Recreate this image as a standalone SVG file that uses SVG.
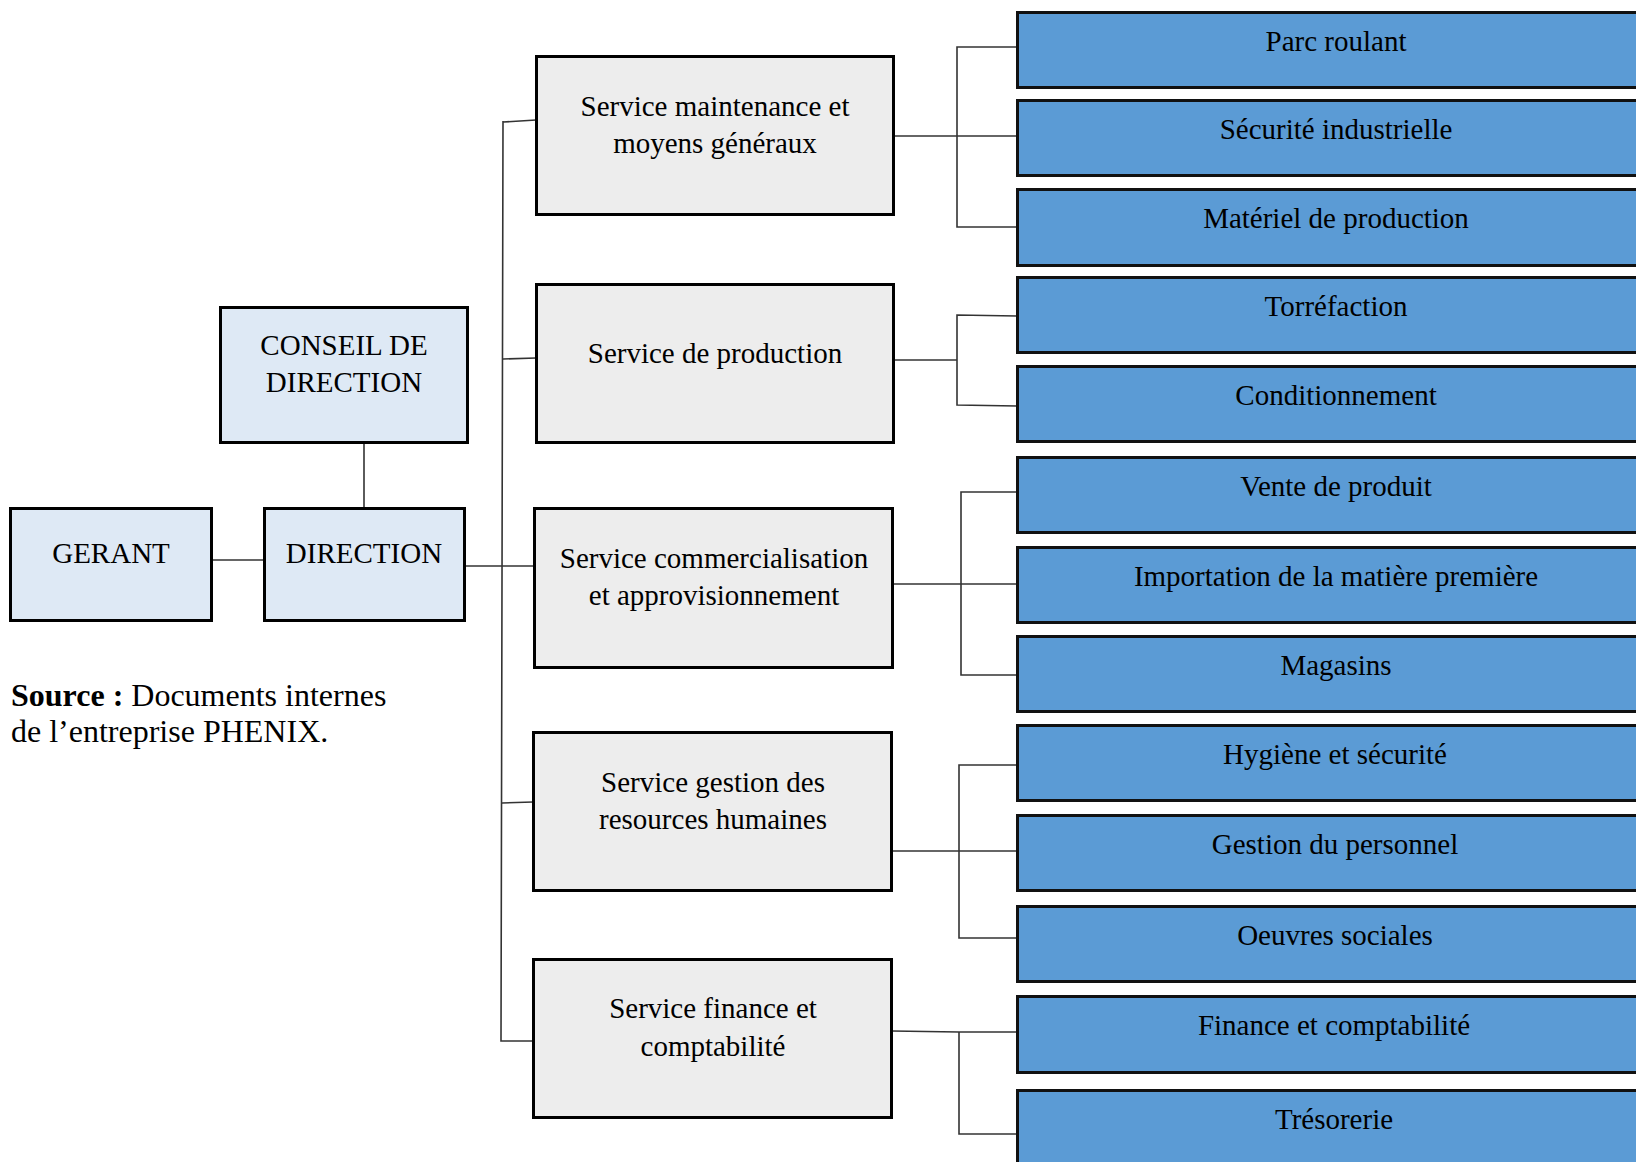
<svg xmlns="http://www.w3.org/2000/svg" width="1636" height="1162" viewBox="0 0 1636 1162">
<style>
text{font-family:"Liberation Serif","Times New Roman",serif;font-size:29px;fill:#000;text-anchor:middle}
.top rect{fill:#dee9f5;stroke:#000;stroke-width:3}
.mid rect{fill:#ededed;stroke:#000;stroke-width:3}
.sub rect{fill:#5b9bd5;stroke:#111;stroke-width:3}
.conn{fill:none;stroke:#333;stroke-width:1.6}
.src{text-anchor:start;font-size:32px}
</style>
<rect width="1636" height="1162" fill="#fff"/>
<g id="connectors" class="conn">
<path d="M364 443V508"/>
<path d="M212 560H264"/>
<path d="M465 566H534"/>
<path d="M503 121L501 1041H533"/>
<path d="M503 122L536 120"/>
<path d="M503 359L536 358"/>
<path d="M502 803L533 802"/>
<path d="M894 136H1017"/>
<path d="M1017 47H957V227H1017"/>
<path d="M894 360H957"/>
<path d="M1017 316L957 315V405L1017 406"/>
<path d="M893 584H1017"/>
<path d="M1017 492H961V675H1017"/>
<path d="M892 851H1017"/>
<path d="M1017 765H959V938H1017"/>
<path d="M892 1031L959 1032H1017"/>
<path d="M959 1032V1134H1017"/>
</g>
<g id="conseil" class="top"><rect x="220.5" y="307.5" width="247" height="135"/><text x="344" y="355">CONSEIL DE</text><text x="344" y="392">DIRECTION</text></g>
<g id="gerant" class="top"><rect x="10.5" y="508.5" width="201" height="112"/><text x="111" y="563">GERANT</text></g>
<g id="direction" class="top"><rect x="264.5" y="508.5" width="200" height="112"/><text x="364" y="563">DIRECTION</text></g>
<g id="svc-maintenance" class="mid"><rect x="536.5" y="56.5" width="357" height="158"/><text x="715" y="116">Service maintenance et</text><text x="715" y="153">moyens généraux</text></g>
<g id="svc-production" class="mid"><rect x="536.5" y="284.5" width="357" height="158"/><text x="715" y="363">Service de production</text></g>
<g id="svc-commerce" class="mid"><rect x="534.5" y="508.5" width="358" height="159"/><text x="714" y="568">Service commercialisation</text><text x="714" y="605">et approvisionnement</text></g>
<g id="svc-rh" class="mid"><rect x="533.5" y="732.5" width="358" height="158"/><text x="713" y="792">Service gestion des</text><text x="713" y="829">resources humaines</text></g>
<g id="svc-finance" class="mid"><rect x="533.5" y="959.5" width="358" height="158"/><text x="713" y="1018">Service finance et</text><text x="713" y="1056">comptabilité</text></g>
<g id="parc" class="sub"><rect x="1017.5" y="12.5" width="640" height="75"/><text x="1336" y="51">Parc roulant</text></g>
<g id="securite" class="sub"><rect x="1017.5" y="100.5" width="640" height="75"/><text x="1336" y="139">Sécurité industrielle</text></g>
<g id="materiel" class="sub"><rect x="1017.5" y="189.5" width="640" height="76"/><text x="1336" y="228">Matériel de production</text></g>
<g id="torrefaction" class="sub"><rect x="1017.5" y="277.5" width="640" height="75"/><text x="1336" y="316">Torréfaction</text></g>
<g id="conditionnement" class="sub"><rect x="1017.5" y="366.5" width="640" height="75"/><text x="1336" y="405">Conditionnement</text></g>
<g id="vente" class="sub"><rect x="1017.5" y="457.5" width="640" height="75"/><text x="1336" y="496">Vente de produit</text></g>
<g id="importation" class="sub"><rect x="1017.5" y="547.5" width="640" height="75"/><text x="1336" y="586">Importation de la matière première</text></g>
<g id="magasins" class="sub"><rect x="1017.5" y="636.5" width="640" height="75"/><text x="1336" y="675">Magasins</text></g>
<g id="hygiene" class="sub"><rect x="1017.5" y="725.5" width="640" height="75"/><text x="1335" y="764">Hygiène et sécurité</text></g>
<g id="personnel" class="sub"><rect x="1017.5" y="815.5" width="640" height="75"/><text x="1335" y="854">Gestion du personnel</text></g>
<g id="oeuvres" class="sub"><rect x="1017.5" y="906.5" width="640" height="75"/><text x="1335" y="945">Oeuvres sociales</text></g>
<g id="finance" class="sub"><rect x="1017.5" y="996.5" width="640" height="76"/><text x="1334" y="1035">Finance et comptabilité</text></g>
<g id="tresorerie" class="sub"><rect x="1017.5" y="1090.5" width="640" height="80"/><text x="1334" y="1129">Trésorerie</text></g>
<text class="src" x="11" y="706"><tspan font-weight="bold">Source :</tspan> Documents internes</text>
<text class="src" x="11" y="742">de l’entreprise PHENIX.</text>
</svg>
